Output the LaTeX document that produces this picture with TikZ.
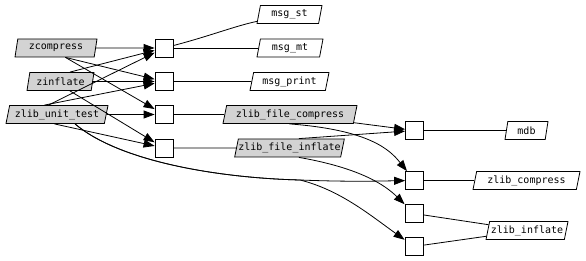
\documentclass[tikz,border=0pt]{standalone}
\usepackage{fontspec}
\setmonofont{DejaVu Sans Mono}
\usetikzlibrary{arrows.meta,shapes.geometric}
\definecolor{callGray}{RGB}{211,211,211}

\begin{document}
\begin{tikzpicture}[
  x=1pt, y=-1pt,
  font=\ttfamily\fontsize{10}{12}\selectfont,
  func/.style={trapezium, trapezium left angle=70, trapezium right angle=110, trapezium stretches body, draw, line width=0.8pt, inner xsep=0pt, inner ysep=0pt, minimum height=18pt, minimum width=#1},
  caller/.style={func=#1, fill=callGray},
  box/.style={draw, line width=0.8pt, minimum size=18pt, inner sep=0pt},
  link/.style={line width=0.8pt},
  edge/.style={link, -{Triangle[length=11pt,width=8pt]}}
]
\useasboundingbox (0,0) rectangle (586,261);

% callers
\node[caller=82pt] (zcompress) at (56,48) {zcompress};
\node[caller=67pt] (zinflate) at (60.5,81.5) {zinflate};
\node[caller=102pt] (unittest) at (57,114.5) {zlib\_unit\_test};

% first column of boxes
\node[box] (b1) at (164,48) {};
\node[box] (b2) at (164,81.5) {};
\node[box] (b3) at (164,114.5) {};
\node[box] (b4) at (164,148) {};

% middle
\node[func=65pt] (msgst) at (289.5,14.5) {msg\_st};
\node[func=66pt] (msgmt) at (290,48) {msg\_mt};
\node[func=79pt] (msgprint) at (289.5,81.5) {msg\_print};
\node[caller=134pt] (filecompress) at (290,114.5) {zlib\_file\_compress};
\node[caller=109pt] (fileinflate) at (289.5,148) {zlib\_file\_inflate};

% second column of boxes
\node[box] (c1) at (414.5,130.5) {};
\node[box] (c2) at (414.5,180.5) {};
\node[box] (c3) at (414,213.5) {};
\node[box] (c4) at (414,246.5) {};

% right
\node[func=43pt] (mdb) at (526.5,130.5) {mdb};
\node[func=107pt] (compress) at (526.5,180.5) {zlib\_compress};
\node[func=82pt] (inflate) at (527,230.5) {zlib\_inflate};

% callers -> boxes
\draw[edge] (zcompress) -- (b1);
\draw[edge] (zcompress.south east) -- (b2);
\draw[edge] (zcompress.south east) -- (b3);
\draw[edge] (zinflate.north east) -- (b1);
\draw[edge] (zinflate) -- (b2);
\draw[edge] (zinflate.south east) -- (b4);
\draw[edge] ([xshift=-18pt]unittest.north east) -- (b1);
\draw[edge] ([xshift=-22pt]unittest.north east) -- (b2);
\draw[edge] (unittest) -- (b3);
\draw[edge] ([xshift=-12pt]unittest.south east) -- (b4);
\draw[edge] ([xshift=18pt]unittest.south) .. controls (120,162) and (220,178) .. (300,180)
  .. controls (350,182) and (380,181) .. (c2);
\draw[edge] ([xshift=18pt]unittest.south) .. controls (120,162) and (220,178) .. (300,180)
  .. controls (340,190) and (370,215) .. (c4);

% boxes -> callees
\draw[link] (b1) .. controls (210,36) and (235,26) .. (msgst);
\draw[link] (b1) -- (msgmt);
\draw[link] (b2) -- (msgprint);
\draw[link] (b3) -- (filecompress);
\draw[link] (b4) -- (fileinflate);

% file functions -> boxes
\draw[edge] (filecompress) -- (c1);
\draw[edge] ([xshift=-10pt]filecompress.south east) .. controls (370,130) and (390,150) .. (c2);
\draw[edge] (fileinflate.north east) -- (c1);
\draw[edge] (fileinflate.south east) .. controls (360,168) and (385,185) .. (c3);

% boxes -> library functions
\draw[link] (c1) -- (mdb);
\draw[link] (c2) -- (compress);
\draw[link] (c3) -- (inflate);
\draw[link] (c4) -- (inflate);
\end{tikzpicture}
\end{document}
